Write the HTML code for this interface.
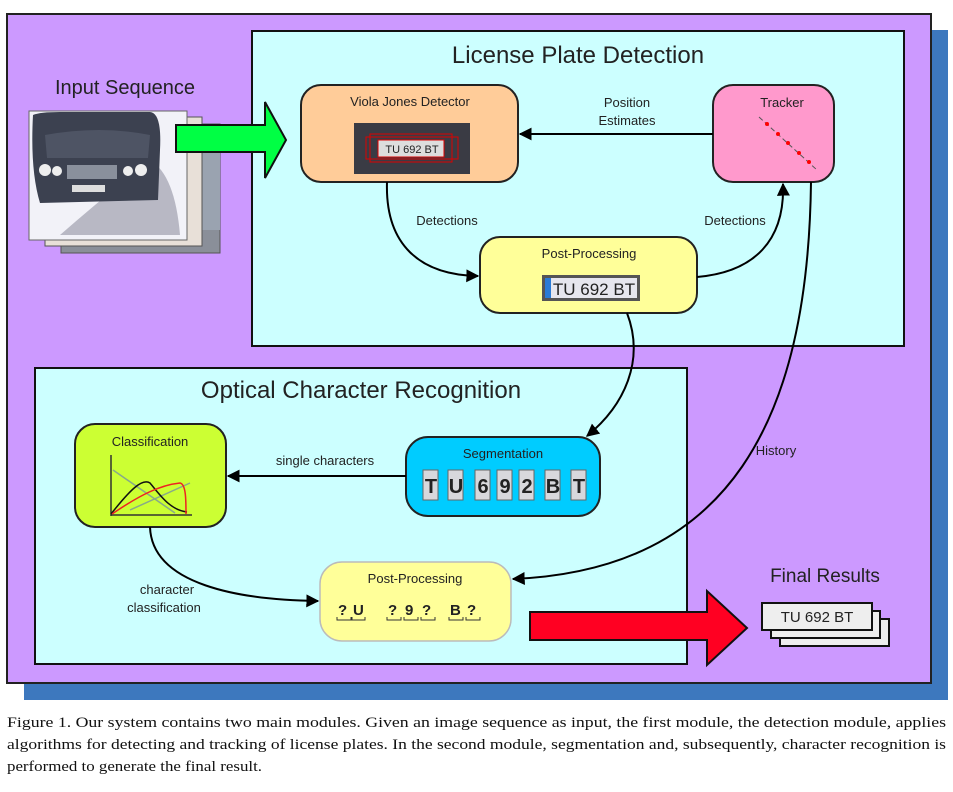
<!DOCTYPE html>
<html><head><meta charset="utf-8"><style>
html,body{margin:0;padding:0;background:#fff;width:953px;height:792px;overflow:hidden}
svg{display:block}
text{font-family:"Liberation Sans",sans-serif;fill:#222}
.cap{font-family:"Liberation Serif",serif;font-size:15px;fill:#111}
</style></head><body>
<svg width="953" height="792" viewBox="0 0 953 792" xmlns="http://www.w3.org/2000/svg">
<defs>
<marker id="ah" viewBox="0 0 10 10" refX="9" refY="5" markerWidth="13" markerHeight="13" markerUnits="userSpaceOnUse" orient="auto">
<path d="M0,0 L10,5 L0,10 z" fill="#000"/></marker>
</defs>
<rect x="24" y="30" width="924" height="670" fill="#3d78be"/>
<rect x="7" y="14" width="924" height="669" fill="#cc99ff" stroke="#222" stroke-width="2"/>
<rect x="252" y="31" width="652" height="315" fill="#ccffff" stroke="#111" stroke-width="2"/>
<text x="578" y="63" font-size="24" text-anchor="middle">License Plate Detection</text>
<rect x="35" y="368" width="652" height="296" fill="#ccffff" stroke="#111" stroke-width="2"/>
<text x="361" y="398" font-size="24" text-anchor="middle">Optical Character Recognition</text>

<text x="125" y="94" font-size="20" text-anchor="middle">Input Sequence</text>
<rect x="61" y="124" width="159" height="129" fill="#8a8f99" stroke="#555"/>
<rect x="190" y="150" width="30" height="80" fill="#9aa3b0"/>
<rect x="45" y="117" width="157" height="129" fill="#e8e0d8" stroke="#555"/>
<rect x="29" y="111" width="158" height="129" fill="#f2f2f8" stroke="#666"/>
<path d="M150,160 Q175,175 180,235 L60,235 Q100,200 150,160 z" fill="#b8b8c4"/>
<path d="M33,115 Q40,112 60,112 L150,112 Q162,113 160,150 L158,200 L40,203 Q30,170 33,115 z" fill="#3c4150"/>
<path d="M45,135 Q100,125 150,135 L148,158 L47,158 z" fill="#4e5464"/>
<rect x="67" y="165" width="50" height="14" fill="#8a909c"/>
<circle cx="45" cy="170" r="6" fill="#eee"/><circle cx="57" cy="171" r="5" fill="#eee"/>
<circle cx="128" cy="171" r="5" fill="#eee"/><circle cx="141" cy="170" r="6" fill="#eee"/>
<rect x="72" y="185" width="33" height="7" fill="#ddd"/>
<path d="M176,125 L265,125 L265,102 L286,140 L265,178 L265,152 L176,152 z" fill="#00ff44" stroke="#111" stroke-width="2"/>

<rect x="301" y="85" width="217" height="97" rx="20" fill="#ffcc99" stroke="#222" stroke-width="2"/>
<text x="410" y="106" font-size="13" text-anchor="middle">Viola Jones Detector</text>
<rect x="354" y="123" width="116" height="51" fill="#3a3b44"/>
<rect x="378" y="140" width="66" height="17" fill="#ddd" stroke="#d00"/>
<rect x="370" y="134" width="82" height="28" fill="none" stroke="#d00"/>
<rect x="366" y="137" width="92" height="22" fill="none" stroke="#d00"/>
<text x="412" y="153" font-size="11" text-anchor="middle" fill="#333">TU 692 BT</text>

<rect x="713" y="85" width="121" height="97" rx="20" fill="#ff99cc" stroke="#222" stroke-width="2"/>
<text x="782" y="107" font-size="13" text-anchor="middle">Tracker</text>
<line x1="759" y1="117" x2="817" y2="170" stroke="#555" stroke-dasharray="5,3"/>
<g fill="#f00"><circle cx="767" cy="124" r="2"/><circle cx="778" cy="134" r="2"/><circle cx="788" cy="143" r="2"/><circle cx="799" cy="153" r="2"/><circle cx="809" cy="162" r="2"/></g>

<rect x="480" y="237" width="217" height="76" rx="20" fill="#ffff99" stroke="#222" stroke-width="2"/>
<text x="589" y="258" font-size="13" text-anchor="middle">Post-Processing</text>
<rect x="542" y="275" width="98" height="26" fill="#555"/>
<rect x="545" y="278" width="92" height="20" fill="#e6e6ee"/>
<rect x="545" y="278" width="6" height="20" fill="#2a7bd6"/>
<text x="594" y="295" font-size="17" text-anchor="middle" fill="#333">TU 692 BT</text>

<line x1="713" y1="134" x2="520" y2="134" stroke="#000" stroke-width="2" marker-end="url(#ah)"/>
<text x="627" y="107" font-size="13" text-anchor="middle">Position</text>
<text x="627" y="125" font-size="13" text-anchor="middle">Estimates</text>
<path d="M387,182 C385,245 420,275 478,276" fill="none" stroke="#000" stroke-width="2" marker-end="url(#ah)"/>
<text x="447" y="225" font-size="13" text-anchor="middle">Detections</text>
<path d="M697,277 C755,272 785,240 783,184" fill="none" stroke="#000" stroke-width="2" marker-end="url(#ah)"/>
<text x="735" y="225" font-size="13" text-anchor="middle">Detections</text>
<path d="M627,313 C645,360 625,405 587,436" fill="none" stroke="#000" stroke-width="2" marker-end="url(#ah)"/>
<path d="M811,182 C808,420 730,570 513,579" fill="none" stroke="#000" stroke-width="2" marker-end="url(#ah)"/>
<text x="776" y="455" font-size="13" text-anchor="middle">History</text>

<rect x="75" y="424" width="151" height="103" rx="20" fill="#ccff33" stroke="#222" stroke-width="2"/>
<text x="150" y="446" font-size="13" text-anchor="middle">Classification</text>
<g fill="none" stroke-width="1.5">
<line x1="111" y1="455" x2="111" y2="516" stroke="#333"/>
<line x1="111" y1="515" x2="192" y2="515" stroke="#333"/>
<line x1="113" y1="470" x2="175" y2="513" stroke="#8a8"/>
<line x1="130" y1="510" x2="190" y2="483" stroke="#8a8"/>
<path d="M111,514 C130,490 142,478 150,483 C160,495 170,510 187,512" stroke="#111"/>
<path d="M112,514 C140,495 160,485 180,483 C186,484 186,500 186,514" stroke="#e22"/>
</g>

<rect x="406" y="437" width="194" height="79" rx="22" fill="#00ccff" stroke="#222" stroke-width="2"/>
<text x="503" y="458" font-size="13" text-anchor="middle">Segmentation</text>
<g fill="#d8d8dc" stroke="#666">
<rect x="423" y="470" width="15" height="30"/><rect x="448" y="470" width="15" height="30"/><rect x="475" y="470" width="15" height="30"/><rect x="497" y="470" width="15" height="30"/><rect x="519" y="470" width="15" height="30"/><rect x="545" y="470" width="15" height="30"/><rect x="571" y="470" width="15" height="30"/>
</g>
<g font-size="20" text-anchor="middle" fill="#555" font-weight="bold">
<text x="431" y="493">T</text><text x="456" y="493">U</text><text x="483" y="493">6</text><text x="505" y="493">9</text><text x="527" y="493">2</text><text x="553" y="493">B</text><text x="579" y="493">T</text>
</g>
<line x1="406" y1="476" x2="228" y2="476" stroke="#000" stroke-width="2" marker-end="url(#ah)"/>
<text x="325" y="465" font-size="13" text-anchor="middle">single characters</text>

<rect x="320" y="562" width="191" height="79" rx="22" fill="#ffff99" stroke="#bbb" stroke-width="1.5"/>
<text x="415" y="583" font-size="13" text-anchor="middle">Post-Processing</text>
<g font-size="15" font-weight="bold" fill="#222">
<text x="338" y="615">?</text><text x="353" y="615">U</text>
<text x="388" y="615">?</text><text x="405" y="615">9</text><text x="422" y="615">?</text>
<text x="450" y="615">B</text><text x="467" y="615">?</text>
</g>
<path d="M337,617v3h14v-3M352,617v3h13v-3M387,617v3h14v-3M404,617v3h14v-3M421,617v3h14v-3M449,617v3h14v-3M466,617v3h14v-3" fill="none" stroke="#333"/>
<path d="M150,527 C152,585 240,600 318,601" fill="none" stroke="#000" stroke-width="2" marker-end="url(#ah)"/>
<text x="167" y="594" font-size="13" text-anchor="middle">character</text>
<text x="164" y="612" font-size="13" text-anchor="middle">classification</text>

<path d="M530,612 L707,612 L707,591 L747,628 L707,665 L707,640 L530,640 z" fill="#ff0022" stroke="#111" stroke-width="2"/>

<text x="825" y="582" font-size="19" text-anchor="middle">Final Results</text>
<rect x="780" y="619" width="109" height="27" fill="#eee" stroke="#111" stroke-width="2"/>
<rect x="771" y="611" width="109" height="27" fill="#eee" stroke="#111" stroke-width="2"/>
<rect x="762" y="603" width="110" height="27" fill="#eee" stroke="#111" stroke-width="2"/>
<text x="817" y="622" font-size="15" text-anchor="middle">TU 692 BT</text>

<text class="cap" x="7" y="727" textLength="939" lengthAdjust="spacingAndGlyphs">Figure 1. Our system contains two main modules.  Given an image sequence as input, the first module, the detection module, applies</text>
<text class="cap" x="7" y="749" textLength="939" lengthAdjust="spacingAndGlyphs">algorithms for detecting and tracking of license plates.  In the second module, segmentation and, subsequently, character recognition is</text>
<text class="cap" x="7" y="771" textLength="255" lengthAdjust="spacingAndGlyphs">performed to generate the final result.</text>
</svg>
</body></html>
